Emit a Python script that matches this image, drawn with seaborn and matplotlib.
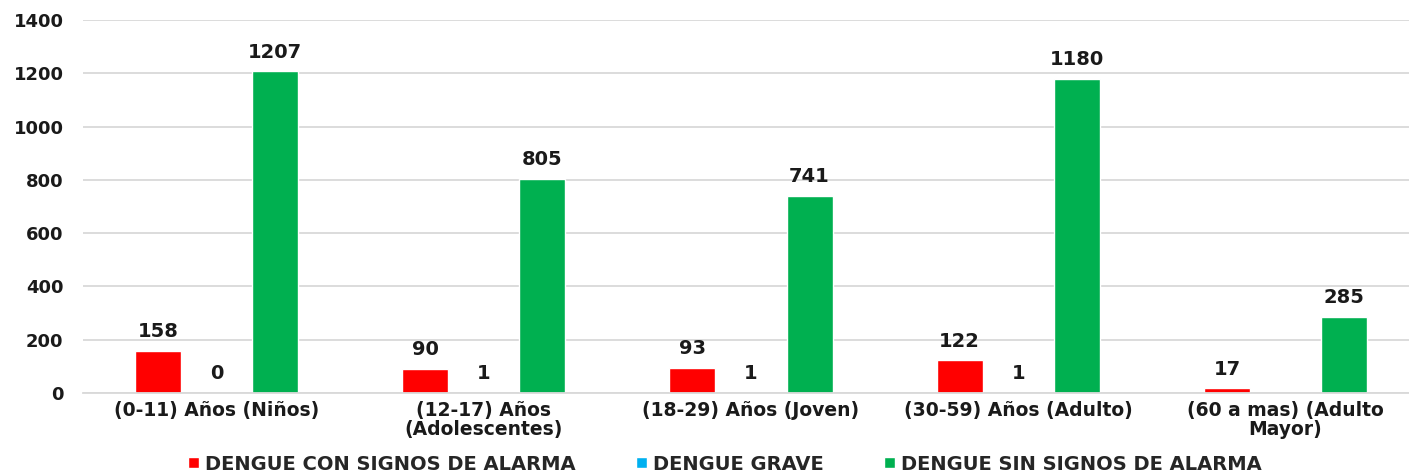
import matplotlib
matplotlib.use("Agg")
import matplotlib.pyplot as plt
import seaborn as sns
import pandas as pd
import numpy as np

categories = ["(0-11) Años (Niños)", "(12-17) Años\n(Adolescentes)", "(18-29) Años (Joven)",
              "(30-59) Años (Adulto)", "(60 a mas) (Adulto\nMayor)"]
series = ["DENGUE CON SIGNOS DE ALARMA", "DENGUE GRAVE", "DENGUE SIN SIGNOS DE ALARMA"]
con_signos = [158, 90, 93, 122, 17]
grave = [0, 1, 1, 1, np.nan]
sin_signos = [1207, 805, 741, 1180, 285]
colors = ["#FF0000", "#00B0F0", "#00B050"]

rows = []
for s, vals in zip(series, [con_signos, grave, sin_signos]):
    for c, v in zip(categories, vals):
        if not pd.isna(v):
            rows.append({"cat": c, "serie": s, "val": v})
df = pd.DataFrame(rows)

sns.set_theme(style="white")
plt.rcParams['font.family'] = ['DejaVu Sans']
plt.rcParams['font.weight'] = 'bold'

fig = plt.figure(figsize=(14.09, 4.75), dpi=100)
ax = fig.add_axes([83 / 1409, 1 - 393 / 475, 1336 / 1409, 373 / 475])

sns.barplot(data=df, x="cat", y="val", hue="serie", order=categories, hue_order=series,
            palette=colors, width=0.657, gap=0.214, saturation=1, ax=ax, legend=True)

txt = '#1a1a1a'
for cont in ax.containers:
    labels = []
    for bar in cont:
        h = bar.get_height()
        labels.append("" if np.isnan(h) else f"{int(round(h))}")
    ax.bar_label(cont, labels=labels, padding=7, fontsize=14, fontweight='bold', color=txt)

ax.set_ylim(0, 1400)
ax.set_yticks(range(0, 1401, 200))
ax.set_xlim(-0.5, 4.5)
ax.grid(axis='y', color='#d9d9d9', linewidth=1.3)
ax.set_axisbelow(True)
for sp in ["top", "right", "left"]:
    ax.spines[sp].set_visible(False)
ax.spines["bottom"].set_color('#d9d9d9')
ax.spines["bottom"].set_linewidth(1.3)
ax.tick_params(axis='y', length=0, labelsize=13, colors=txt, pad=14)
ax.tick_params(axis='x', length=0, labelsize=13.5, colors=txt, pad=6)
for t in ax.get_xticklabels() + ax.get_yticklabels():
    t.set_fontweight('bold')
for t in ax.get_xticklabels():
    t.set_linespacing(0.95)
ax.set_xlabel("")
ax.set_ylabel("")

handles, labels = ax.get_legend_handles_labels()
ax.legend(handles, labels, loc='center', bbox_to_anchor=(725 / 1409, 1 - 464 / 475),
          bbox_transform=fig.transFigure,
          ncol=3, frameon=False, handlelength=0.55, handleheight=0.55,
          handletextpad=0.33, columnspacing=3.1, borderpad=0.1,
          prop={'family': 'DejaVu Sans', 'weight': 'bold', 'size': 14})

fig.savefig("out.png", dpi=100)
